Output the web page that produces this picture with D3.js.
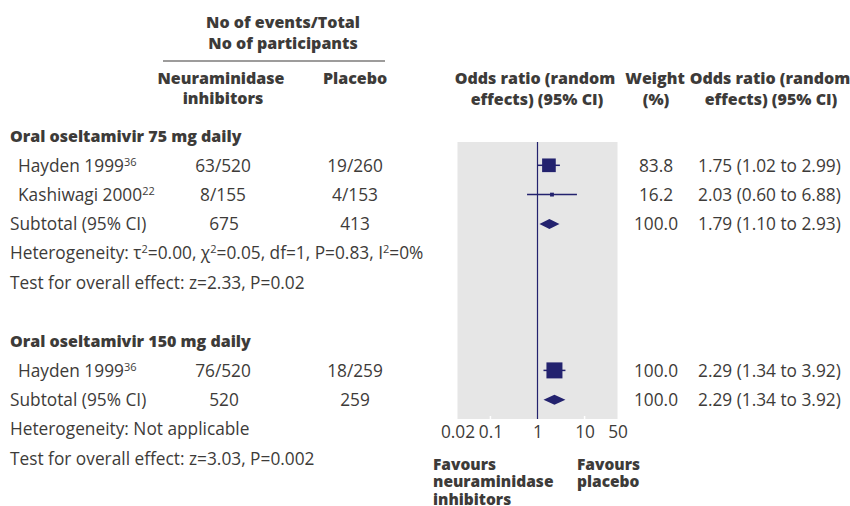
<!DOCTYPE html>
<html><head><meta charset="utf-8">
<script src="https://cdn.jsdelivr.net/npm/d3@7"></script>
<style>
body{margin:0;background:#fff;}
svg text{font-family:"Open Sans",sans-serif;fill:#3d3b39;}
svg text.b{font-weight:800;}
</style></head>
<body><svg id="c" width="850" height="506"></svg>
<script>
// ---- data ----
const sectionTitles = ["Oral oseltamivir 75 mg daily", "Oral oseltamivir 150 mg daily"];
const studyNames = ["Hayden 1999", "Kashiwagi 2000", "Hayden 1999"];
const studyRefs = ["36", "22", "36"];
const studySection = [0, 0, 1];
const niEvents = ["63/520", "8/155", "76/520"];
const plEvents = ["19/260", "4/153", "18/259"];
const studyOR = [1.75, 2.03, 2.29];
const studyLow = [1.02, 0.60, 1.34];
const studyHigh = [2.99, 6.88, 3.92];
const studyWeight = [83.8, 16.2, 100.0];
const subNiTotal = [675, 520];
const subPlTotal = [413, 259];
const subOR = [1.79, 2.29];
const subLow = [1.10, 1.34];
const subHigh = [2.93, 3.92];
const subWeight = [100.0, 100.0];
const testText = ["Test for overall effect: z=2.33, P=0.02", "Test for overall effect: z=3.03, P=0.002"];
const axisTicks = [0.02, 0.1, 1, 10, 50];

// ---- layout ----
const svg = d3.select("#c");
const navy = "#23226e";
const x = d3.scaleLog().domain([0.02, 50]).range([457.5, 617.5]);
const y = d3.scaleLinear().domain([0, 1]).range([136, 165.3]);
const size = d3.scaleLinear().domain([0, 100]).range([1.5, 16]);
const fmt = d3.format(".2f");
const FS = 17.3, FB = 16, FSUP = 11;

function txt(xp, yp, s, anchor, cls, fs) {
  return svg.append("text").attr("x", xp).attr("y", yp).attr("dy", "0.36em")
    .attr("text-anchor", anchor || "start").attr("class", cls || null)
    .style("font-size", (fs || (cls === "b" ? FB : FS)) + "px").text(s);
}
function supTxt(xp, yp, parts) {
  const t = svg.append("text").attr("x", xp).attr("y", yp + FS * 0.36)
    .style("font-size", FS + "px");
  let up = false;
  parts.forEach(p => {
    const ts = t.append("tspan").text(p[0]);
    if (p[1]) { ts.attr("dy", -6).style("font-size", FSUP + "px"); up = true; }
    else if (up) { ts.attr("dy", 6); up = false; }
  });
  return t;
}

// headers
txt(283, 22, "No of events/Total", "middle", "b");
txt(283, 43, "No of participants", "middle", "b");
svg.append("line").attr("x1", 163).attr("x2", 385).attr("y1", 61).attr("y2", 61)
  .attr("stroke", "#3d3b39").attr("stroke-width", 1.2);
txt(221, 78, "Neuraminidase", "middle", "b");
txt(223, 98, "inhibitors", "middle", "b");
txt(355, 78, "Placebo", "middle", "b");
txt(535, 78, "Odds ratio (random", "middle", "b");
txt(537, 99, "effects) (95% CI)", "middle", "b");
txt(655, 78, "Weight", "middle", "b");
txt(656, 99, "(%)", "middle", "b");
txt(770, 78, "Odds ratio (random", "middle", "b");
txt(771, 99, "effects) (95% CI)", "middle", "b");

// panel
svg.append("rect").attr("x", x(0.02)).attr("y", 142)
  .attr("width", x(50) - x(0.02)).attr("height", 419 - 142).attr("fill", "#e6e6e6");
[0.1, 10].forEach(v => {
  svg.append("line").attr("x1", x(v)).attr("x2", x(v)).attr("y1", 416).attr("y2", 419)
    .attr("stroke", "#fff").attr("stroke-width", 1.5);
});
svg.append("line").attr("x1", x(1)).attr("x2", x(1)).attr("y1", 142).attr("y2", 419)
  .attr("stroke", navy).attr("stroke-width", 1.2);

// axis ticks
const axis = d3.axisBottom(x).tickValues(axisTicks).tickFormat(d => String(d)).tickSize(0).tickPadding(0);
const ag = svg.append("g").attr("transform", "translate(0,426)").call(axis);
ag.select(".domain").remove();
ag.selectAll("text").style("font-size", FS + "px").style("font-family", '"Open Sans",sans-serif')
  .attr("fill", "#3d3b39");

// sections
const rowBase = [0, 7];
sectionTitles.forEach((s, si) => {
  const r0 = rowBase[si];
  txt(10, y(r0), s, "start", "b");
  const idx = studyNames.map((d, i) => i).filter(i => studySection[i] === si);
  idx.forEach((i, k) => {
    const yy = y(r0 + 1 + k);
    supTxt(18, yy, [[studyNames[i], false], [studyRefs[i], true]]);
    txt(223, yy, niEvents[i], "middle");
    txt(355, yy, plEvents[i], "middle");
    txt(656, yy, studyWeight[i].toFixed(1), "middle");
    txt(698, yy, `${fmt(studyOR[i])} (${fmt(studyLow[i])} to ${fmt(studyHigh[i])})`, "start");
    svg.append("line").attr("x1", x(studyLow[i])).attr("x2", x(studyHigh[i]))
      .attr("y1", yy).attr("y2", yy).attr("stroke", navy).attr("stroke-width", 1.5);
    const s2 = size(studyWeight[i]);
    svg.append("rect").attr("x", x(studyOR[i]) - s2 / 2).attr("y", yy - s2 / 2)
      .attr("width", s2).attr("height", s2).attr("fill", navy);
  });
  const rs = r0 + 1 + idx.length;
  const ys = y(rs);
  txt(10, ys, "Subtotal (95% CI)");
  txt(224, ys, String(subNiTotal[si]), "middle");
  txt(355, ys, String(subPlTotal[si]), "middle");
  txt(656, ys, subWeight[si].toFixed(1), "middle");
  txt(698, ys, `${fmt(subOR[si])} (${fmt(subLow[si])} to ${fmt(subHigh[si])})`, "start");
  const dh = 5;
  svg.append("path").attr("d",
    `M${x(subLow[si])},${ys} L${x(subOR[si])},${ys - dh} L${x(subHigh[si])},${ys} L${x(subOR[si])},${ys + dh} Z`)
    .attr("fill", navy);
  const yh = y(rs + 1);
  if (si === 0) {
    supTxt(10, yh, [["Heterogeneity: τ", false], ["2", true], ["=0.00, χ", false], ["2", true],
      ["=0.05, df=1, P=0.83, I", false], ["2", true], ["=0%", false]]);
  } else {
    txt(10, yh, "Heterogeneity: Not applicable");
  }
  txt(10, y(rs + 2), testText[si]);
});

// favours
["Favours", "neuraminidase", "inhibitors"].forEach((s, i) => txt(433, 464 + 17.8 * i, s, "start", "b", 15.5));
["Favours", "placebo"].forEach((s, i) => txt(577, 464 + 17.8 * i, s, "start", "b", 15.5));
</script></body></html>
